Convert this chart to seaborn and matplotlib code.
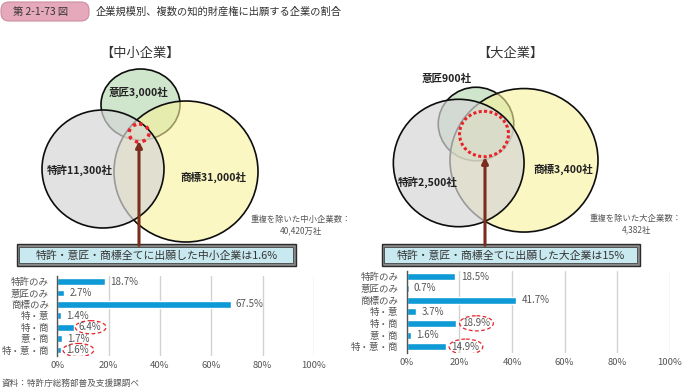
import matplotlib
matplotlib.use("Agg")
import matplotlib.pyplot as plt
from matplotlib.patches import Ellipse, Rectangle, FancyBboxPatch
import seaborn as sns
import pandas as pd

sns.set_theme(style="white")
plt.rcParams['font.family'] = ['Noto Sans CJK JP', 'DejaVu Sans']

# ---------------- data ----------------
categories = ['特許のみ', '意匠のみ', '商標のみ', '特・意', '特・商', '意・商', '特・意・商']
sme_share = [18.7, 2.7, 67.5, 1.4, 6.4, 1.7, 1.6]
large_share = [18.5, 0.7, 41.7, 3.7, 18.9, 1.6, 14.9]
circled_idx = [4, 6]
x_ticks = [0, 20, 40, 60, 80, 100]
x_tick_labels = ['0%', '20%', '40%', '60%', '80%', '100%']

sme_venn_labels = ['意匠3,000社', '特許11,300社', '商標31,000社']
large_venn_labels = ['意匠900社', '特許2,500社', '商標3,400社']
sme_total = '重複を除いた中小企業数：\n40,420万社'
large_total = '重複を除いた大企業数：\n4,382社'
sme_caption = '特許・意匠・商標全てに出願した中小企業は1.6%'
large_caption = '特許・意匠・商標全てに出願した大企業は15%'
panel_titles = ['【中小企業】', '【大企業】']
fig_number = '第 2-1-73 図'
fig_title = '企業規模別、複数の知的財産権に出願する企業の割合'
source = '資料：特許庁総務部普及支援課調べ'

# ---------------- figure ----------------
W, H = 683, 389
fig = plt.figure(figsize=(W / 100, H / 100), dpi=100)
ov = fig.add_axes([0, 0, 1, 1])
ov.set_xlim(0, W)
ov.set_ylim(H, 0)
ov.axis('off')

# header
ov.add_patch(FancyBboxPatch((1, 2), 88, 19, boxstyle="round,pad=0,rounding_size=8",
                            facecolor='#E6A9BB', edgecolor='#CC8FA2', lw=0.8))
ov.text(41, 11.5, fig_number, ha='center', va='center', fontsize=7.4, color='#333333')
ov.text(96, 11.5, fig_title, ha='left', va='center', fontsize=7.4, color='#333333')

# venn styles (fill colour, alpha) in draw order: 意匠, 商標, 特許
venn_styles = {'意匠': ('#CFE5CC', 1.0), '商標': ('#F7F29A', 0.6), '特許': ('#D6D6D6', 0.7)}
layouts = [
    dict(title=(140, 53), circles={'意匠': (140.5, 104.5, 79, 71), '商標': (186, 171.5, 144, 141),
                                   '特許': (103, 169, 122, 118)},
         red=(139, 133, 20, 18, 2.5, (0, (1, 1.2))), arrow=(139, 141),
         labels=sme_venn_labels, label_pos=[(139, 92), (80, 170), (213, 177)],
         total=sme_total, total_pos=(301, 225),
         caption=sme_caption, box=(16.7, 244.3, 279.3, 21.7)),
    dict(title=(510, 53), circles={'意匠': (476, 124, 75.5, 73.5), '商標': (524, 160.3, 148, 143.5),
                                   '特許': (458.7, 163, 130.7, 127.4)},
         red=(484, 134, 49, 45.4, 2.2, (0, (1, 0.8))), arrow=(485, 157),
         labels=large_venn_labels, label_pos=[(447, 79), (428, 182), (563, 169)],
         total=large_total, total_pos=(636, 224),
         caption=large_caption, box=(381.7, 244.3, 258.3, 21.7)),
]

for i, L in enumerate(layouts):
    ov.text(*L['title'], panel_titles[i], ha='center', va='center', fontsize=9.5, color='#333333')
    for name in ['意匠', '商標', '特許']:
        cx, cy, w, h = L['circles'][name]
        fc, a = venn_styles[name]
        ov.add_patch(Ellipse((cx, cy), w, h, facecolor=matplotlib.colors.to_rgba(fc, a),
                             edgecolor=(0.05, 0.05, 0.05, 1), lw=1.2))
    rx, ry, rw, rh, rlw, rls = L['red']
    ov.add_patch(Ellipse((rx, ry), rw, rh, fill=False, edgecolor='#E8232A', lw=rlw, linestyle=rls))
    for txt, pos in zip(L['labels'], L['label_pos']):
        ov.text(*pos, txt, ha='center', va='center', fontsize=7.6, fontweight='bold', color='#222222')
    ov.text(*L['total_pos'], L['total'], ha='center', va='center', fontsize=6.0,
            color='#555555', linespacing=1.35)
    ax_x, ax_y = L['arrow']
    bx, by, bw, bh = L['box']
    ov.annotate('', xy=(ax_x, ax_y), xytext=(ax_x, by + 1),
                arrowprops=dict(arrowstyle='-|>', color='#7B2D1E', lw=2.2, mutation_scale=9,
                                shrinkA=0, shrinkB=0))
    ov.add_patch(Rectangle((bx, by), bw, bh, facecolor='#8A8A8A', edgecolor='#2A2A2A', lw=1.0))
    ov.add_patch(Rectangle((bx + 2.6, by + 2.6), bw - 5.2, bh - 5.2, facecolor='#C9E9F0',
                           edgecolor='#444444', lw=0.6))
    ov.text(bx + bw / 2, by + bh / 2 + 0.3, L['caption'], ha='center', va='center',
            fontsize=7.8, color='#333333')

ov.text(2, 383, source, ha='left', va='center', fontsize=6.2, color='#555555')

# ---------------- bar charts ----------------
bar_color = '#0E9AD7'
bar_axes = [
    (fig.add_axes([57.3 / W, 1 - 355.7 / H, 256.7 / W, 79.7 / H]), sme_share, 6.6, 12.0, 1.15),
    (fig.add_axes([406.7 / W, 1 - 352.5 / H, 263.3 / W, 81.6 / H]), large_share, 7.6, 12.8, 1.3),
]
for ax, vals, eoff, ew, eh in bar_axes:
    df = pd.DataFrame({'cat': categories, 'val': vals})
    ax.set_axisbelow(True)
    sns.barplot(data=df, x='val', y='cat', orient='h', color=bar_color, width=0.6,
                saturation=1, ax=ax)
    ax.set_xlim(0, 100)
    ax.set_ylim(6.5, -0.5)
    ax.set_xticks(x_ticks)
    ax.set_xticklabels(x_tick_labels)
    ax.set_xlabel('')
    ax.set_ylabel('')
    ax.grid(axis='x', color='#D2D2D2', lw=1)
    ax.grid(axis='y', visible=False)
    for s in ['top', 'right', 'bottom']:
        ax.spines[s].set_visible(False)
    ax.spines['left'].set_color('#555555')
    ax.spines['left'].set_linewidth(1.0)
    ax.tick_params(axis='both', length=0, labelsize=6.8, colors='#555555')
    ax.tick_params(axis='y', pad=6)
    ax.tick_params(axis='x', pad=4)
    ax.patch.set_alpha(0)
    for j, v in enumerate(vals):
        ax.text(v + 2.0, j, f'{v}%', ha='left', va='center', fontsize=7.0, color='#555555')
    for j in circled_idx:
        ax.add_patch(Ellipse((vals[j] + eoff, j), ew, eh, fill=False, edgecolor='#E8232A',
                             lw=0.9, linestyle=(0, (3, 2))))

fig.savefig('out.png', dpi=100)
